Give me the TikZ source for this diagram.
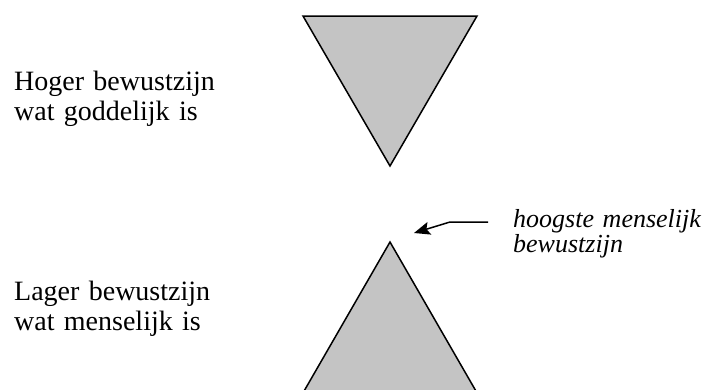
\documentclass[tikz,border=0pt]{standalone}
\usepackage{fontspec}
\setmainfont{Liberation Serif}
\usepackage{tikz}
\usetikzlibrary{arrows.meta}

\definecolor{trigrijs}{RGB}{196,196,196}

\begin{document}
\begin{tikzpicture}[
  x=1pt, y=-1pt,
  driehoek/.style={draw=black, fill=trigrijs, line width=1.5pt, line join=miter},
  tekst/.style={anchor=base west, inner sep=0pt, text width=230pt, align=left,
    font=\fontsize{28}{30}\selectfont},
  notitie/.style={anchor=base west, inner sep=0pt, text width=190pt, align=left,
    font=\fontsize{26}{25}\selectfont\itshape},
  pijl/.style={-{Stealth[length=16pt,width=13pt,inset=3pt]}, line width=1.5pt}
]
\useasboundingbox (0,0) rectangle (702,389);
\clip (0,0) rectangle (702,389);

% driehoeken
\coordinate (boven) at (390,166);
\coordinate (onder) at (390,242);
\draw[driehoek] (303,16) -- (477,16) -- (boven) -- cycle;
\draw[driehoek] (onder) -- (476.5,392) -- (303.5,392) -- cycle;

% teksten
\node[tekst] (hoger) at (14,90) {Hoger bewustzijn\\wat goddelijk is};
\node[tekst] (lager) at (14,300) {Lager bewustzijn\\wat menselijk is};
\node[notitie] (hoogste) at (513,227) {hoogste menselijk\\bewustzijn};

% pijl
\coordinate (start) at (488,222);
\coordinate (knik) at (450,222);
\coordinate (punt) at (414,233);
\draw[pijl] (start) -- (knik) -- (punt);
\end{tikzpicture}
\end{document}
